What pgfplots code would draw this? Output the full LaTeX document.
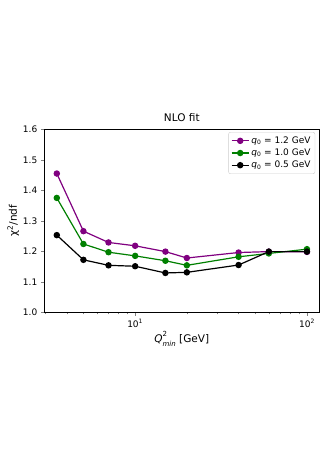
\documentclass[border=0pt]{standalone}
\usepackage{fontspec}
\setmainfont{DejaVu Sans}
\usepackage{pgfplots}
\pgfplotsset{compat=1.18}
\definecolor{mplpurple}{HTML}{800080}
\definecolor{mplgreen}{HTML}{008000}
\begin{document}
\begin{tikzpicture}
\path[use as bounding box] (0,0) rectangle (327pt,463pt);
\begin{axis}[
    scale only axis,
    width=275pt, height=183pt,
    at={(44.3pt,150.7pt)}, anchor=south west,
    xmode=log,
    xmin=2.96, xmax=118,
    ymin=1.0, ymax=1.6,
    ytick={1.0,1.1,1.2,1.3,1.4,1.5,1.6},
    xtick={10,100},
    xticklabels={10\textsuperscript{1},10\textsuperscript{2}},
    minor xtick={3,4,5,6,7,8,9,20,30,40,50,60,70,80,90},
    yticklabel style={/pgf/number format/.cd,fixed,fixed zerofill,precision=1,assume math mode=true},
    tick label style={font=\fontsize{9}{10}\selectfont},
    tick align=outside,
    tick pos=left,
    major tick length=3.5pt,
    minor tick length=2pt,
    axis line style={line width=0.6pt},
    title={NLO fit},
    title style={font=\fontsize{10.5}{12}\selectfont, yshift=-2pt},
    xlabel={\textit{Q}\rlap{\raisebox{0.5em}{\fontsize{7}{7}\selectfont 2}}\raisebox{-0.4em}{\fontsize{7}{7}\selectfont\textit{min}} [GeV]},
    ylabel={χ\textsuperscript{2}/ndf},
    label style={font=\fontsize{10.5}{12}\selectfont},
    xlabel style={yshift=3pt},
    ylabel style={yshift=-3pt},
    legend style={at={(0.985,0.985)}, anchor=north east, draw=black!20, rounded corners=2pt,
        font=\fontsize{9}{11}\selectfont, row sep=0pt, inner sep=2.5pt},
    legend cell align=left,
    every axis plot/.append style={line width=1.2pt, mark=*, mark size=2.6pt},
]
\addplot[color=mplpurple] coordinates {
(3.5,1.455)(5,1.266)(7,1.229)(10,1.218)(15,1.199)(20,1.178)(40,1.196)(60,1.199)(100,1.198)
};
\addlegendentry{\textit{q}\textsubscript{0} = 1.2 GeV}
\addplot[color=mplgreen] coordinates {
(3.5,1.375)(5,1.224)(7,1.197)(10,1.185)(15,1.169)(20,1.154)(40,1.182)(60,1.193)(100,1.207)
};
\addlegendentry{\textit{q}\textsubscript{0} = 1.0 GeV}
\addplot[color=black] coordinates {
(3.5,1.253)(5,1.172)(7,1.154)(10,1.151)(15,1.129)(20,1.131)(40,1.155)(60,1.199)(100,1.199)
};
\addlegendentry{\textit{q}\textsubscript{0} = 0.5 GeV}
\end{axis}
\end{tikzpicture}
\end{document}
